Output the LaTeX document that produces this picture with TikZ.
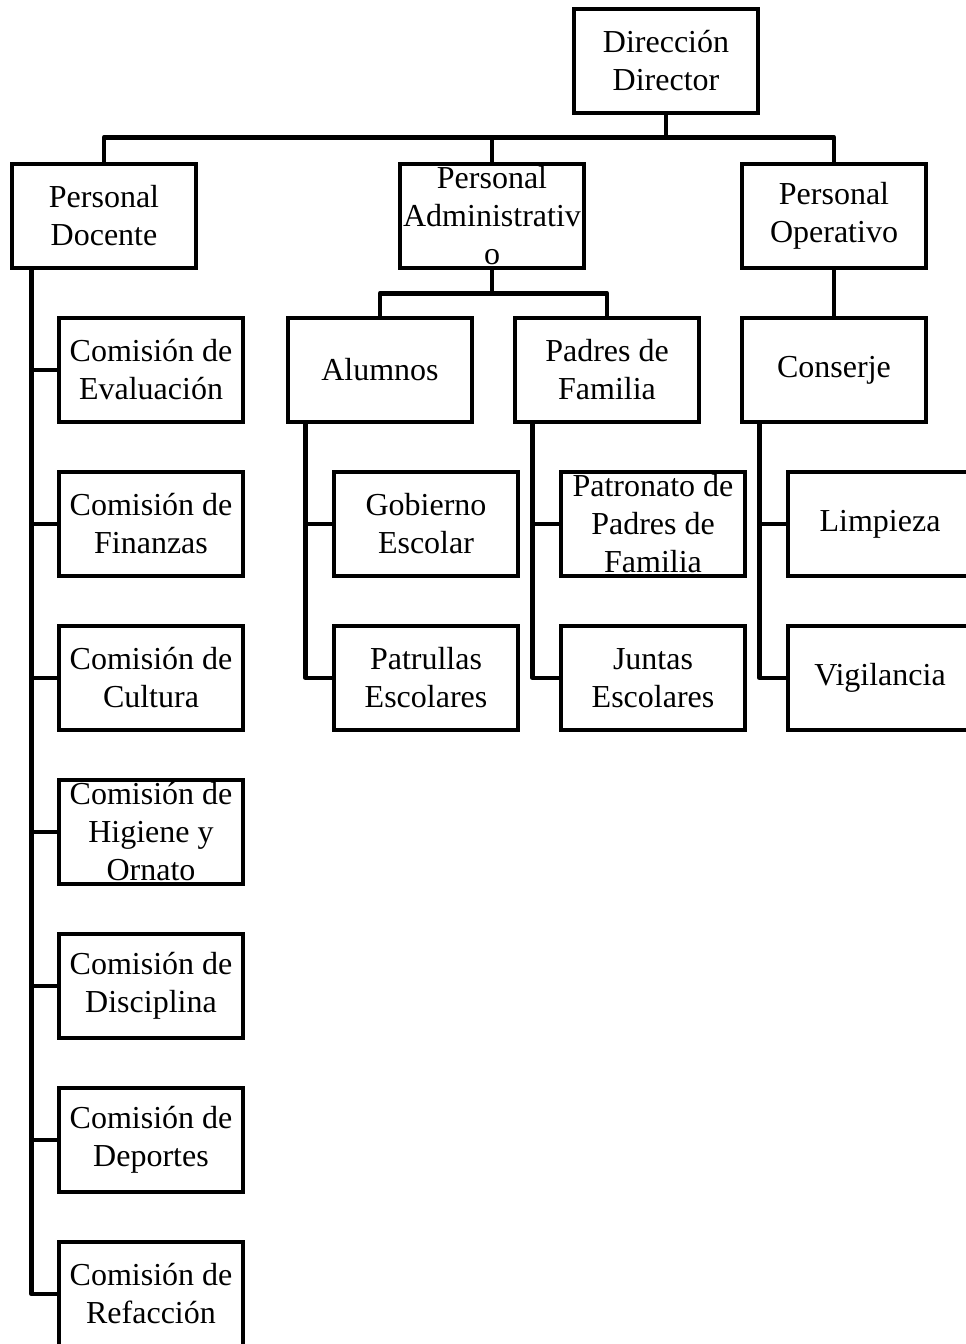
\documentclass[tikz,border=0pt]{standalone}
\usepackage{fontspec}
\setmainfont{Liberation Serif}

\begin{document}
\begin{tikzpicture}[
    x=0.75pt, y=-0.75pt,
    caja/.style={draw, line width=3.4pt, minimum width=138pt, minimum height=78pt,
                 inner sep=0pt, align=center, font=\fontsize{24}{28.5}\selectfont},
    enlace/.style={draw, line width=3.4pt, line join=round},
]
\useasboundingbox (0,0) rectangle (966,1344);
\clip (0,0) rectangle (966,1344);

% Dirección
\node[caja] (dir) at (666, 61) {Dirección\\Director};

% Personal
\node[caja] (doc) at (104, 216) {Personal\\Docente};
\node[caja] (adm) at (492, 216) {Personal\\Administrativ\\o};
\node[caja] (ope) at (834, 216) {Personal\\Operativo};

% Segundo nivel
\node[caja] (alu) at (380, 370) {Alumnos};
\node[caja] (pad) at (607, 370) {Padres de\\Familia};
\node[caja] (con) at (834, 370) {Conserje};

% Comisiones
\node[caja] (eva) at (151, 370)  {Comisión de\\Evaluación};
\node[caja] (fin) at (151, 524)  {Comisión de\\Finanzas};
\node[caja] (cul) at (151, 678)  {Comisión de\\Cultura};
\node[caja] (hig) at (151, 832)  {Comisión de\\Higiene y\\Ornato};
\node[caja] (dis) at (151, 986)  {Comisión de\\Disciplina};
\node[caja] (dep) at (151, 1140) {Comisión de\\Deportes};
\node[caja] (ref) at (151, 1294) {Comisión de\\Refacción};

% Tercer nivel
\node[caja] (gob) at (426, 524) {Gobierno\\Escolar};
\node[caja] (pat) at (426, 678) {Patrullas\\Escolares};
\node[caja] (ppf) at (653, 524) {Patronato de\\Padres de\\Familia};
\node[caja] (jun) at (653, 678) {Juntas\\Escolares};
\node[caja] (lim) at (880, 524) {Limpieza};
\node[caja] (vig) at (880, 678) {Vigilancia};

% Enlaces
\draw[enlace] (dir.south) -- ++(0,22) coordinate (bus1);
\draw[enlace] (doc.north) |- (bus1) -| (ope.north);
\draw[enlace] (adm.north) |- (bus1);
\draw[enlace] (adm.south) -- ++(0,23) coordinate (bus2);
\draw[enlace] (alu.north) |- (bus2) -| (pad.north);
\draw[enlace] (ope) -- (con);

\foreach \c in {eva,fin,cul,hig,dis,dep,ref}
  \draw[enlace] ([xshift=16.5pt]doc.south west) |- (\c.west);
\foreach \c in {gob,pat}
  \draw[enlace] ([xshift=15pt]alu.south west) |- (\c.west);
\foreach \c in {ppf,jun}
  \draw[enlace] ([xshift=15pt]pad.south west) |- (\c.west);
\foreach \c in {lim,vig}
  \draw[enlace] ([xshift=15pt]con.south west) |- (\c.west);

\end{tikzpicture}
\end{document}
